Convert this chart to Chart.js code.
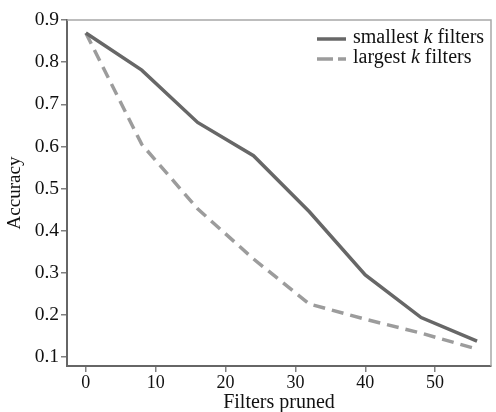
<!DOCTYPE html>
<html>
<head>
<meta charset="utf-8">
<script src="https://cdn.jsdelivr.net/npm/chart.js@4.4.1/dist/chart.umd.min.js"></script>
<style>
  html, body { margin: 0; padding: 0; background: #fff; }
  #wrap { position: relative; width: 496px; height: 412px; }
</style>
</head>
<body>
<div id="wrap"><canvas id="chart" width="496" height="412"></canvas></div>
<script>
// ---- data ----
const filtersPruned = [0, 8, 16, 24, 32, 40, 48, 56];
const smallestK = [0.869, 0.781, 0.657, 0.578, 0.445, 0.295, 0.194, 0.138];
const largestK  = [0.869, 0.605, 0.452, 0.333, 0.226, 0.190, 0.157, 0.119];
const xTicks = [0, 10, 20, 30, 40, 50];
const yTicks = [0.1, 0.2, 0.3, 0.4, 0.5, 0.6, 0.7, 0.8, 0.9];
const seriesNames = ['smallest', 'largest'];

const SERIF = '"Liberation Serif", "Times New Roman", serif';
const SOLID = '#676767';
const DASHED = '#9c9c9c';
const DASH = [12, 7];

// top/right frame of the plot box
const frameBox = {
  id: 'frameBox',
  afterDraw(chart) {
    const { ctx, chartArea: a } = chart;
    ctx.save();
    ctx.strokeStyle = '#a8a8a8';
    ctx.lineWidth = 1.5;
    ctx.beginPath();
    ctx.moveTo(a.left, a.top);
    ctx.lineTo(a.right, a.top);
    ctx.lineTo(a.right, a.bottom);
    ctx.stroke();
    ctx.restore();
  }
};

// legend with italic k, drawn in the top right corner
const kLegend = {
  id: 'kLegend',
  afterDraw(chart) {
    const { ctx } = chart;
    const rows = [
      { name: seriesNames[0], color: SOLID, dash: [] , y: 38 },
      { name: seriesNames[1], color: DASHED, dash: [16, 5], y: 58 }
    ];
    ctx.save();
    ctx.textBaseline = 'middle';
    rows.forEach(r => {
      ctx.strokeStyle = r.color;
      ctx.lineWidth = 3.5;
      ctx.setLineDash(r.dash);
      ctx.beginPath();
      ctx.moveTo(317, r.y + 1);
      ctx.lineTo(346, r.y + 1);
      ctx.stroke();
      ctx.setLineDash([]);
      ctx.fillStyle = '#111';
      let x = 353;
      ctx.font = `20px ${SERIF}`;
      ctx.fillText(r.name + ' ', x, r.y);
      x += ctx.measureText(r.name + ' ').width;
      ctx.font = `italic 20px ${SERIF}`;
      ctx.fillText('k', x, r.y);
      x += ctx.measureText('k').width;
      ctx.font = `20px ${SERIF}`;
      ctx.fillText(' filters', x, r.y);
    });
    ctx.restore();
  }
};

new Chart(document.getElementById('chart'), {
  type: 'line',
  data: {
    datasets: [
      {
        label: 'smallest k filters',
        data: filtersPruned.map((x, i) => ({ x, y: smallestK[i] })),
        borderColor: SOLID,
        borderWidth: 3.5,
        pointRadius: 0,
        tension: 0
      },
      {
        label: 'largest k filters',
        data: filtersPruned.map((x, i) => ({ x, y: largestK[i] })),
        borderColor: DASHED,
        borderWidth: 3.5,
        borderDash: DASH,
        pointRadius: 0,
        tension: 0
      }
    ]
  },
  options: {
    responsive: false,
    animation: false,
    layout: { padding: { top: 20, right: 5, left: 0, bottom: 0 } },
    plugins: { legend: { display: false }, tooltip: { enabled: false } },
    scales: {
      x: {
        type: 'linear',
        min: -2.7,
        max: 58,
        afterFit: s => { s.height = 46; },
        afterBuildTicks: s => { s.ticks = xTicks.map(v => ({ value: v })); },
        ticks: { color: '#111', font: { family: SERIF, size: 18 }, padding: 0, maxRotation: 0 },
        grid: { drawOnChartArea: false, drawTicks: true, tickLength: 6, color: '#808080', lineWidth: 1.5 },
        border: { color: '#666', width: 2 },
        title: { display: true, text: 'Filters pruned', color: '#111', font: { family: SERIF, size: 20 }, padding: { top: -3, bottom: -3 } }
      },
      y: {
        min: 0.079,
        max: 0.9,
        afterFit: s => { s.width = 67; },
        afterBuildTicks: s => { s.ticks = yTicks.map(v => ({ value: v })); },
        ticks: { color: '#111', font: { family: SERIF, size: 19.5 }, padding: 2, callback: v => v.toFixed(1) },
        grid: { drawOnChartArea: false, drawTicks: true, tickLength: 6, color: '#808080', lineWidth: 1.5 },
        border: { color: '#666', width: 2 },
        title: { display: true, text: 'Accuracy', color: '#111', font: { family: SERIF, size: 19 }, padding: { top: 4, bottom: 4 } }
      }
    }
  },
  plugins: [frameBox, kLegend]
});
</script>
</body>
</html>
